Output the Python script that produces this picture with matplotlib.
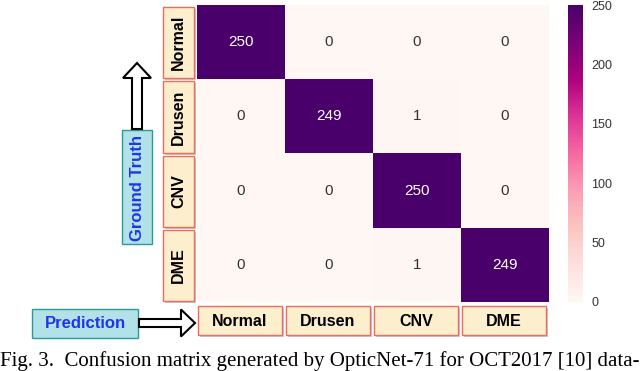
import matplotlib
matplotlib.use("Agg")
import matplotlib.pyplot as plt
from matplotlib.patches import Rectangle, FancyArrow
import numpy as np

plt.rcParams["font.family"] = ["Liberation Sans", "DejaVu Sans"]

classes = ["Normal", "Drusen", "CNV", "DME"]
cm = np.array([[250, 0, 0, 0],
               [0, 249, 1, 0],
               [0, 0, 250, 0],
               [0, 0, 1, 249]])
cbar_ticks = [0, 50, 100, 150, 200, 250]
caption = "Fig. 3.  Confusion matrix generated by OpticNet-71 for OCT2017 [10] data-"

W, H = 640, 371
fig = plt.figure(figsize=(W / 100, H / 100), dpi=100)


def fx(x):
    return x / W


def fy(y):
    return 1 - y / H


def box(x0, y0, x1, y1, fc, ec, shadow=True):
    if shadow:
        fig.patches.append(Rectangle((fx(x0 + 2), fy(y1 + 2)), fx(x1 - x0), (y1 - y0) / H,
                                     transform=fig.transFigure, fc="#c8c8c8", ec="none", zorder=1))
    fig.patches.append(Rectangle((fx(x0), fy(y1)), fx(x1 - x0), (y1 - y0) / H,
                                 transform=fig.transFigure, fc=fc, ec=ec, lw=1.0, zorder=2))


L, R, T, B = 197, 549, 5, 302
ax = fig.add_axes([fx(L), fy(B), fx(R - L), (B - T) / H])
im = ax.imshow(cm, cmap="RdPu", vmin=0, vmax=250, aspect="auto")
for i in range(4):
    for j in range(4):
        v = cm[i, j]
        ax.text(j, i, str(v), ha="center", va="center", fontsize=11,
                color="white" if v > 125 else "#333333")
ax.set_xticks([])
ax.set_yticks([])
for s in ax.spines.values():
    s.set_visible(False)

cax = fig.add_axes([fx(568), fy(B), fx(15), (B - T) / H])
cb = fig.colorbar(im, cax=cax, ticks=cbar_ticks)
cb.outline.set_visible(False)
cax.tick_params(length=0, labelsize=9, labelcolor="#333333", pad=6)

cw = (R - L) / 4
ch = (B - T) / 4
label_fc = "#fdefcd"
label_ec = "#f06a5e"
for k, name in enumerate(classes):
    # row labels
    y0 = T + k * ch + 2
    y1 = T + (k + 1) * ch - 1
    box(163, y0, 194, y1, label_fc, label_ec)
    fig.text(fx(178.5), fy((y0 + y1) / 2), name, rotation=90, ha="center", va="center",
             fontsize=11.5, fontweight="bold", zorder=3)
    # column labels
    x0 = L + k * cw + 1
    x1 = L + (k + 1) * cw - 3
    box(x0, 306, x1, 335, label_fc, label_ec)
    fig.text(fx((x0 + x1) / 2), fy(321), name, ha="center", va="center",
             fontsize=11.5, fontweight="bold", zorder=3)

# Ground Truth box and arrow
box(122, 130, 152, 244, "#b0e2e8", "#2a9a9a", shadow=False)
fig.text(fx(137), fy(188), "Ground Truth", rotation=90, ha="center", va="center",
         fontsize=12, fontweight="bold", color="#2233ee", zorder=3)
fig.patches.append(FancyArrow(fx(137), fy(129), 0, (129 - 63) / H, width=fx(10),
                              head_width=fx(28), head_length=(15) / H,
                              length_includes_head=True, transform=fig.transFigure,
                              fc="white", ec="black", lw=1.5, zorder=3))

# Prediction box and arrow
box(32, 309, 138, 338, "#b0e2e8", "#2a9a9a", shadow=False)
fig.text(fx(85), fy(323.5), "Prediction", ha="center", va="center",
         fontsize=12, fontweight="bold", color="#2233ee", zorder=3)
fig.patches.append(FancyArrow(fx(139), fy(323), fx(195 - 139), 0, width=8 / H,
                              head_width=27 / H, head_length=fx(14),
                              length_includes_head=True, transform=fig.transFigure,
                              fc="white", ec="black", lw=1.5, zorder=3))

fig.text(fx(0), fy(366), caption, ha="left", va="baseline", fontsize=15,
         family="Liberation Serif")

fig.savefig("out.png", dpi=100)
